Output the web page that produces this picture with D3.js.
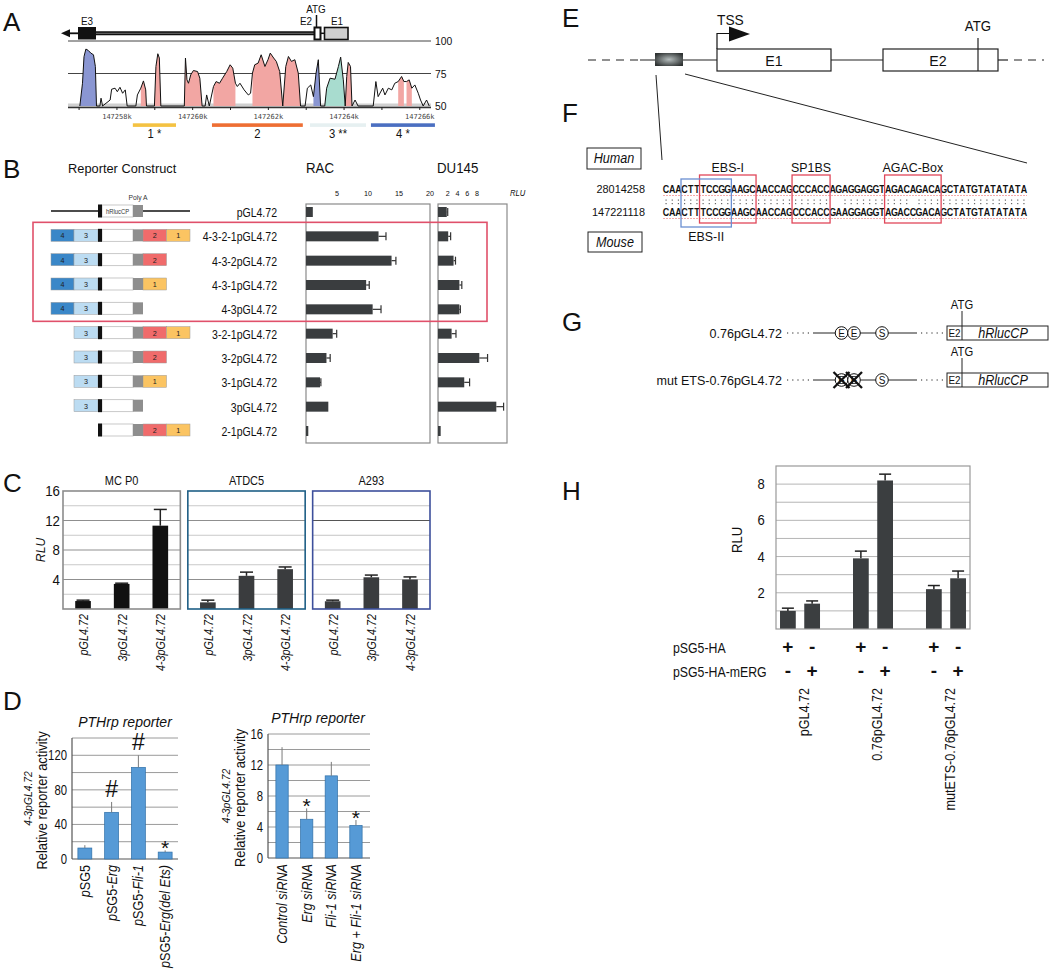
<!DOCTYPE html>
<html><head><meta charset="utf-8">
<script src="https://cdn.jsdelivr.net/npm/d3@7"></script>
<style>
body{margin:0;background:#fff}
svg{display:block;background:#fff}
text{font-family:"Liberation Sans",Arial,sans-serif;fill:#111}
</style>
</head><body>
<svg id="fig" width="1050" height="972"></svg>
<script>
// ================= DATA =================
// Panel A: conservation profile (position in kb offset from 147200k, % identity)
const aKbBase = 147200;
const aProfile = [
[57.02,50],[57.09,67.5],[57.13,88],[57.18,93.8],[57.24,92.8],[57.31,90.7],[57.38,89.4],[57.43,80.4],[57.46,50],
[57.55,50],[57.58,56],[57.62,50],
[57.82,54.6],[57.86,62.9],[57.95,63.7],[58.01,61],[58.08,64.4],[58.15,59.8],[58.22,62.4],[58.27,50],
[58.50,50],[58.54,58.5],[58.63,63.7],[58.70,69.3],[58.76,62.4],[58.78,50],
[58.99,50],[59.03,80.4],[59.08,90.2],[59.12,86.9],[59.16,50],
[59.78,50],[59.81,86.9],[59.85,70.1],[59.89,67.5],[59.95,74],[60.02,77.3],[60.13,76.5],[60.19,71.4],[60.25,50],
[60.33,50],[60.37,58.5],[60.44,50],
[60.55,65],[60.62,68.8],[60.71,67.5],[60.79,71.4],[60.90,76.5],[60.99,81.7],[61.06,79.1],[61.13,67.5],
[61.18,65],[61.25,67.5],[61.36,62.4],[61.47,58.5],[61.53,59.8],
[61.58,75.3],[61.64,81.7],[61.73,83],[61.81,89.4],[61.91,80.4],[61.99,85.6],[62.05,90.7],[62.14,86.9],[62.21,84.3],[62.30,76.5],[62.38,50],
[62.46,80.4],[62.53,88.1],[62.61,84.3],[62.70,85.6],[62.79,75.3],[62.85,50],
[62.97,50],[63.03,63.7],[63.12,66.2],[63.19,57.2],[63.26,75.3],[63.32,85.6],[63.38,50],
[63.49,50],[63.54,63.7],[63.63,71.4],[63.76,70.6],[63.85,80.4],[63.91,87.6],[63.98,70.1],[64.03,50],
[64.07,72.7],[64.11,83.5],[64.17,80.4],[64.21,50],
[64.29,54.6],[64.37,50],
[64.77,50],[64.84,68.8],[64.90,57.2],[65.02,63.7],[65.08,58.5],[65.17,63.7],[65.26,62.4],[65.34,67.5],[65.43,68.8],[65.52,72.7],[65.58,68.8],[65.65,68.8],[65.72,70.1],[65.79,63.7],[65.87,66.2],[65.96,59.8],[66.02,54.6],[66.09,50],[66.18,54.6],[66.25,50]
];
const aFillRegions = [
[57.02,57.46,"blue"],[58.63,58.78,"pink"],[58.99,59.16,"pink"],[59.78,60.25,"pink"],
[60.55,61.13,"pink"],[61.58,62.38,"pink"],[62.38,62.85,"pink"],[63.19,63.38,"blue"],
[63.49,64.03,"teal"],[64.03,64.21,"pink"],[65.43,65.58,"pink"],[65.65,65.79,"pink"]
];
const aLevels = [100,75,50];
const aTicks = [58,60,62,64,66];
const aSegLabels = ["1 *","2","3 **","4 *"];
const aSegFrom = [58.42,60.51,63.10,64.71];
const aSegTo = [59.56,62.91,64.58,66.40];

// Panel B
const bConstructs = ["pGL4.72","4-3-2-1pGL4.72","4-3-2pGL4.72","4-3-1pGL4.72","4-3pGL4.72","3-2-1pGL4.72","3-2pGL4.72","3-1pGL4.72","3pGL4.72","2-1pGL4.72"];
const bParts = [[],["4","3","2","1"],["4","3","2"],["4","3","1"],["4","3"],["3","2","1"],["3","2"],["3","1"],["3"],["2","1"]];
const bRAC = [1.1,11.7,13.8,9.7,10.75,4.3,3.3,2.26,3.6,0.37];
const bRACerr = [1.1,12.9,14.5,10.2,12.1,4.95,3.9,2.4,3.6,0.37];
const bDU = [1.8,2.1,3.2,4.4,4.4,2.8,8.5,5.4,12.0,0.55];
const bDUerr = [2.0,2.6,3.6,4.9,4.6,3.7,10.2,6.5,13.5,0.6];
const bRACticks = [5,10,15,20];
const bDUticks = [2,4,6,8];

// Panel C
const cCells = ["MC P0","ATDC5","A293"];
const cConstructs = ["pGL4.72","3pGL4.72","4-3pGL4.72"];
const cValues = [[1.08,3.4,11.3],[0.9,4.5,5.4],[1.05,4.3,4.0]];
const cErrors = [[1.2,3.5,13.5],[1.2,5.0,5.7],[1.2,4.6,4.35]];
const cTicks = [4,8,12,16];

// Panel D
const dLeftCats = ["pSG5","pSG5-Erg","pSG5-Fli-1","pSG5-Erg(del Ets)"];
const dLeftVals = [12.7,54,106,8];
const dLeftErr = [16,66,120,10];
const dLeftMarks = ["","#","#","*"];
const dLeftTicks = [0,40,80,120];
const dRightCats = ["Control siRNA","Erg siRNA","Fli-1 siRNA","Erg + Fli-1 siRNA"];
const dRightVals = [12.0,5.0,10.6,4.2];
const dRightErr = [14.3,6.4,12.4,4.9];
const dRightMarks = ["","*","","*"];
const dRightTicks = [0,4,8,12,16];

// Panel F
const fHuman = "CAACTTTCCGGAAGCAACCAGCCCACCAGAGGAGGTAGACAGACAGCTATGTATATATA";
const fMouse = "CAACTTTCCGGAAGCAACCAGCCCACCGAAGGAGGTAGACCGACAGCTATGTATATATA";
const fCoords = ["28014258","147221118"];
const fSiteNames = ["EBS-I","SP1BS","AGAC-Box","EBS-II"];
const fSiteFrom = [6,21,36,3];
const fSiteTo = [14,26,44,10];

// Panel G
const gRows = ["0.76pGL4.72","mut ETS-0.76pGL4.72"];
const gMutated = [false,true];
const gSites = ["E","E","S"];

// Panel H
const hGroups = ["pGL4.72","0.76pGL4.72","mutETS-0.76pGL4.72"];
const hHA = [["+","-"],["+","-"],["+","-"]];
const hERG = [["-","+"],["-","+"],["-","+"]];
const hValues = [[1.0,1.4],[3.9,8.2],[2.2,2.8]];
const hErr = [[1.15,1.55],[4.3,8.55],[2.4,3.2]];
const hTicks = [2,4,6,8];

// ================= DRAWING =================
const svg = d3.select("#fig");
function txt(g, x, y, s, o = {}) {
  const sx = o.sx == null ? 0.9 : o.sx;
  const t = g.append("text").attr("transform", `translate(${x},${y}) scale(${sx},1)`).text(s)
    .attr("font-size", o.size || 12).style("fill", o.fill || "#111");
  if (o.anchor) t.attr("text-anchor", o.anchor);
  if (o.italic) t.style("font-style", "italic");
  if (o.bold) t.style("font-weight", "bold");
  if (o.family) t.style("font-family", o.family);
  return t;
}
function line(g, x1, y1, x2, y2, stroke = "#111", w = 1, dash) {
  const l = g.append("line").attr("x1", x1).attr("y1", y1).attr("x2", x2).attr("y2", y2)
    .attr("stroke", stroke).attr("stroke-width", w);
  if (dash) l.attr("stroke-dasharray", dash);
  return l;
}
function rtxt(g, x, y, s, o = {}) { // rotated -90
  const sx = o.sx == null ? 0.9 : o.sx;
  const t = g.append("text").attr("transform", `translate(${x},${y}) rotate(-90) scale(${sx},1)`).text(s)
    .attr("font-size", o.size || 12).attr("text-anchor", o.anchor || "end").style("fill", "#111");
  if (o.italic) t.style("font-style", "italic");
  if (o.family) t.style("font-family", o.family);
  return t;
}

// Panel letters
[["A",3,31],["B",3,178],["C",3,492],["D",3,710],["E",562,27],["F",562,122],["G",562,331],["H",562,500]]
  .forEach(([l,x,y]) => txt(svg, x, y, l, {size: 26, sx: 1}));

// ---------- Panel A ----------
{
  const g = svg.append("g");
  const ax = d3.scaleLinear().domain([56.76, 66.27]).range([70, 430]);
  const ay = d3.scaleLinear().domain([50, 100]).range([106, 41]);
  g.append("path").attr("d", "M61,33.3 L70,29.3 L70,37.3 Z").attr("fill", "#111");
  line(g, 68, 33.3, 78, 33.3, "#111", 1.8);
  g.append("rect").attr("x", 78).attr("y", 27).attr("width", 18).attr("height", 12.5).attr("fill", "#111");
  line(g, 96, 33.3, 314, 33.3, "#111", 4);
  line(g, 96, 33.3, 314, 33.3, "#888", 0.8);
  g.append("rect").attr("x", 314.5).attr("y", 27.5).attr("width", 6).attr("height", 12).attr("fill", "#fff").attr("stroke", "#111").attr("stroke-width", 2);
  line(g, 321, 33.3, 324, 33.3, "#111", 1.5);
  g.append("rect").attr("x", 324.5).attr("y", 27.5).attr("width", 23.5).attr("height", 12).attr("fill", "#cfcfcf").attr("stroke", "#111").attr("stroke-width", 1.6);
  line(g, 316.5, 15, 316.5, 27.5, "#111", 1.5);
  txt(g, 316, 13, "ATG", {size: 11, anchor: "middle"});
  txt(g, 306, 25, "E2", {size: 11, anchor: "middle"});
  txt(g, 337, 25, "E1", {size: 11, anchor: "middle"});
  txt(g, 87, 25, "E3", {size: 11, anchor: "middle"});
  line(g, 68, ay(100), 431, ay(100), "#444", 1);
  line(g, 68, ay(75), 431, ay(75), "#444", 1);
  g.append("rect").attr("x", 68).attr("y", ay(50) - 2.5).attr("width", 363).attr("height", 3.5).attr("fill", "#d0d0d0");
  line(g, 68, ay(50) + 1.5, 431, ay(50) + 1.5, "#333", 1.5);
  aLevels.forEach(v => txt(g, 435, ay(v) + 4, String(v), {size: 11.5}));
  const fillCol = {blue: "#8a96d2", pink: "#f2a6a3", teal: "#a8dccf"};
  const area = d3.area().x(d => ax(d[0])).y0(ay(50)).y1(d => ay(d[1]));
  aFillRegions.forEach(([a, b, c]) => {
    const pts = aProfile.filter(p => p[0] >= a - 1e-9 && p[0] <= b + 1e-9);
    g.append("path").attr("d", area(pts)).attr("fill", fillCol[c]);
  });
  g.append("path").attr("d", d3.line().x(d => ax(d[0])).y(d => ay(d[1]))(aProfile))
    .attr("fill", "none").attr("stroke", "#111").attr("stroke-width", 1);
  d3.range(57, 67).forEach(k => line(g, ax(k), ay(50) + 1, ax(k), ay(50) + 4, "#222", 1));
  aTicks.forEach(t => txt(g, ax(t), 119, (aKbBase + t) + "k", {size: 7, sx: 1, anchor: "middle", family: '"DejaVu Sans Mono",monospace', fill: "#444"}));
  const segCol = ["#f4c242", "#ee6e33", "#e6f0f1", "#4b6fc1"];
  aSegLabels.forEach((s, i) => {
    g.append("rect").attr("x", ax(aSegFrom[i])).attr("y", 123.3).attr("width", ax(aSegTo[i]) - ax(aSegFrom[i])).attr("height", 3.6).attr("fill", segCol[i]);
    txt(g, (ax(aSegFrom[i]) + ax(aSegTo[i])) / 2, 138, s, {size: 12.5, anchor: "middle"});
  });
}

// ---------- Panel B ----------
{
  const g = svg.append("g");
  const by = d3.scalePoint().domain(bConstructs).range([212, 431]);
  const rx = d3.scaleLinear().domain([0, 20]).range([306, 430]);
  const dx = d3.scaleLinear().domain([0, 14.2]).range([438, 507]);
  txt(g, 68, 173, "Reporter Construct", {size: 13.5, sx: 0.95});
  txt(g, 306, 173, "RAC", {size: 14, sx: 0.95});
  txt(g, 437, 173, "DU145", {size: 14, sx: 0.95});
  const top = by(bConstructs[0]) - 8, bot = by(bConstructs[bConstructs.length - 1]) + 12;
  g.append("rect").attr("x", rx(0)).attr("y", top).attr("width", rx(20) - rx(0)).attr("height", bot - top).attr("fill", "none").attr("stroke", "#8a8a8a").attr("stroke-width", 1.2);
  g.append("rect").attr("x", dx(0)).attr("y", top).attr("width", dx(14.2) - dx(0)).attr("height", bot - top).attr("fill", "none").attr("stroke", "#8a8a8a").attr("stroke-width", 1.2);
  bRACticks.forEach(t => txt(g, rx(t), 196, String(t), {size: 8, anchor: "middle"}));
  bDUticks.forEach(t => txt(g, dx(t), 196, String(t), {size: 8, anchor: "middle"}));
  txt(g, 510, 196, "RLU", {size: 8.5, italic: true});
  g.append("rect").attr("x", 33).attr("y", by(bConstructs[1]) - 14).attr("width", 454)
    .attr("height", by(bConstructs[4]) + 12 - (by(bConstructs[1]) - 14)).attr("fill", "none").attr("stroke", "#e0506a").attr("stroke-width", 1.6);
  const partCol = {"4": "#3a87c8", "3": "#bcdcf2", "2": "#f06b6b", "1": "#fbc462"};
  const lead = {"4": [51, 74], "3": [74, 98]};
  bConstructs.forEach((name, i) => {
    const cy = by(name);
    const ccy = cy - 1;
    if (i === 0) line(g, 51, ccy, 190, ccy, "#111", 1.5);
    let slot = 0;
    bParts[i].forEach(p => {
      let x0, x1;
      if (lead[p]) { [x0, x1] = lead[p]; }
      else { x0 = 143 + slot * 23.5; x1 = x0 + 23.5; slot++; }
      g.append("rect").attr("x", x0).attr("y", ccy - 6).attr("width", x1 - x0).attr("height", 12).attr("fill", partCol[p]).attr("stroke", "#9a9a9a").attr("stroke-width", 0.5);
      txt(g, (x0 + x1) / 2, ccy + 3, p, {size: 8, anchor: "middle", fill: "#222"});
    });
    g.append("rect").attr("x", 102).attr("y", ccy - 6).attr("width", 31).attr("height", 12).attr("fill", "#fff").attr("stroke", "#bbb").attr("stroke-width", 0.8);
    g.append("rect").attr("x", 98).attr("y", ccy - 6.5).attr("width", 4).attr("height", 13).attr("fill", "#111");
    g.append("rect").attr("x", 133).attr("y", ccy - 6).attr("width", 10).attr("height", 12).attr("fill", "#8e8e8e");
    if (i === 0) {
      txt(g, 117.5, ccy + 2.5, "hRlucCP", {size: 6.5, anchor: "middle", fill: "#333"});
      txt(g, 138, ccy - 11, "Poly A", {size: 7.5, anchor: "middle", fill: "#333"});
    }
    txt(g, 277, cy + 5, name, {size: 13.5, sx: 0.78, anchor: "end"});
    [[rx, bRAC[i], bRACerr[i]], [dx, bDU[i], bDUerr[i]]].forEach(([sx, v, e]) => {
      g.append("rect").attr("x", sx(0)).attr("y", cy - 5).attr("width", sx(v) - sx(0)).attr("height", 10).attr("fill", "#3a3d3f");
      if (e > v + 0.05) {
        line(g, sx(v), cy, sx(e), cy, "#333", 1.2);
        line(g, sx(e), cy - 4, sx(e), cy + 4, "#333", 1.2);
      }
    });
  });
}

// ---------- Panel C ----------
{
  const g = svg.append("g");
  const cx = d3.scaleBand().domain(cCells).range([63, 430]).paddingInner(0.06);
  const cy = d3.scaleLinear().domain([0, 16]).range([609, 491]);
  const borders = ["#8c8c8c", "#1f5f86", "#3d4f9c"];
  const barCols = ["#111", "#3a3c3e", "#3a3c3e"];
  const inner = d3.scaleBand().domain(cConstructs).range([0, cx.bandwidth()]).paddingInner(0.595).paddingOuter(0.316);
  cCells.forEach((cell, ci) => {
    const x0 = cx(cell), w = cx.bandwidth();
    d3.range(2, 16, 2).forEach(v => {
      const major = v % 4 === 0;
      let col = major ? "#8f8f8f" : "#c9c9c9";
      if (ci === 2) col = v === 12 ? "#555" : "#c4c4c4";
      line(g, x0, cy(v), x0 + w, cy(v), col, 1);
    });
    cConstructs.forEach((c, j) => {
      const bx = x0 + inner(c), bw = inner.bandwidth(), v = cValues[ci][j], e = cErrors[ci][j];
      g.append("rect").attr("x", bx).attr("y", cy(v)).attr("width", bw).attr("height", cy(0) - cy(v)).attr("fill", barCols[ci]);
      const mx = bx + bw / 2;
      line(g, mx, cy(v), mx, cy(e), "#222", 1.5);
      line(g, mx - 6.5, cy(e), mx + 6.5, cy(e), "#222", 1.5);
      rtxt(g, mx + 5, 614, c, {size: 12, italic: true, sx: 0.9});
    });
    g.append("rect").attr("x", x0).attr("y", cy(16)).attr("width", w).attr("height", cy(0) - cy(16)).attr("fill", "none").attr("stroke", borders[ci]).attr("stroke-width", 1.6);
    txt(g, x0 + w / 2, 485, cell, {size: 12.5, anchor: "middle", sx: 0.88});
  });
  cTicks.forEach(t => txt(g, 60, cy(t) + 5, String(t), {size: 14, anchor: "end", sx: 0.95}));
  rtxt(g, 45, 550, "RLU", {size: 13.5, italic: true, anchor: "middle"});
}

// ---------- Panel D ----------
function dChart(cats, vals, errs, marks, ticks, x0, x1, yBottom, yTop, ymax, pi, po, labelFn, ylabX, title, titleX) {
  const g = svg.append("g");
  const x = d3.scaleBand().domain(cats).range([x0, x1]).paddingInner(pi).paddingOuter(po);
  const y = d3.scaleLinear().domain([0, ymax]).range([yBottom, yTop]);
  const step = ticks[1] - ticks[0];
  d3.range(step / 2, ymax + 0.01, step / 2).forEach(v => line(g, x0, y(v), x1, y(v), "#9a9a9a", 1));
  line(g, x0, yTop, x0, yBottom, "#555", 1.2);
  line(g, x0, yBottom, x1, yBottom, "#555", 1.2);
  ticks.forEach(t => txt(g, x0 - 5, y(t) + 5, String(t), {size: 14.5, anchor: "end", sx: 0.78}));
  cats.forEach((c, i) => {
    const bx = x(c), bw = x.bandwidth(), mx = bx + bw / 2;
    g.append("rect").attr("x", bx).attr("y", y(vals[i])).attr("width", bw).attr("height", y(0) - y(vals[i]))
      .attr("fill", "#569ad6").attr("stroke", "#2f6fa8").attr("stroke-width", 0.7);
    line(g, mx, y(vals[i]), mx, y(errs[i]), "#7a7a7a", 1);
    if (marks[i] === "#") txt(g, mx, y(errs[i]) - 5, "#", {size: 23, anchor: "middle", sx: 1});
    if (marks[i] === "*") txt(g, mx, y(errs[i]) + 5, "*", {size: 21, anchor: "middle", sx: 1});
    const t = g.append("text").attr("transform", `translate(${mx + 5},${yBottom + 6}) rotate(-90) scale(0.87,1)`)
      .attr("text-anchor", "end").attr("font-size", 14.5).style("fill", "#111");
    labelFn(c).forEach(([s, it]) => t.append("tspan").text(s).style("font-style", it ? "italic" : "normal"));
  });
  rtxt(g, ylabX, (yTop + yBottom) / 2 + 2, "Relative reporter activity", {size: 15, anchor: "middle", sx: 0.86});
  rtxt(g, ylabX - 15, (yTop + yBottom) / 2, "4-3pGL4.72", {size: 11.5, anchor: "middle", italic: true, sx: 0.9});
  txt(g, titleX, yTop - 11, title, {size: 14.5, anchor: "middle", italic: true, sx: 0.97});
}
dChart(dLeftCats, dLeftVals, dLeftErr, dLeftMarks, dLeftTicks, 72, 178, 859, 738, 140, 0.48, 0.22,
  c => { const rest = c.slice(4); return rest ? [["p", 1], ["SG5-", 0], [rest.slice(1), 1]] : [["p", 1], ["SG5", 0]]; },
  47, "PTHrp reporter", 125);
dChart(dRightCats, dRightVals, dRightErr, dRightMarks, dRightTicks, 268, 370, 858, 734, 16, 0.5, 0.32,
  c => [[c, 1]], 245, "PTHrp reporter", 318);

// ---------- Panel E ----------
{
  const g = svg.append("g");
  const defs = svg.append("defs");
  const rg = defs.append("radialGradient").attr("id", "gbox").attr("cx", "50%").attr("cy", "50%").attr("r", "60%");
  rg.append("stop").attr("offset", "0").attr("stop-color", "#b5bdbd");
  rg.append("stop").attr("offset", "1").attr("stop-color", "#2f3333");
  const y0 = 60;
  line(g, 588, y0, 640, y0, "#222", 1.2, "8,6");
  line(g, 640, y0, 717, y0, "#222", 1.2);
  line(g, 831, y0, 883, y0, "#222", 1.2);
  line(g, 998, y0, 1008, y0, "#222", 1.2);
  line(g, 1014, y0, 1044, y0, "#222", 1.2, "8,6");
  g.append("rect").attr("x", 655).attr("y", 53).attr("width", 28).attr("height", 13).attr("fill", "url(#gbox)");
  g.append("rect").attr("x", 717).attr("y", 49).attr("width", 114).attr("height", 22).attr("fill", "#fff").attr("stroke", "#222").attr("stroke-width", 1.2);
  g.append("rect").attr("x", 883).attr("y", 49).attr("width", 115).attr("height", 22).attr("fill", "#fff").attr("stroke", "#222").attr("stroke-width", 1.2);
  line(g, 978, 38, 978, 71, "#222", 1.2);
  txt(g, 978, 31, "ATG", {size: 14, anchor: "middle", sx: 0.95});
  txt(g, 774, 66, "E1", {size: 15, anchor: "middle", sx: 0.95});
  txt(g, 938, 66, "E2", {size: 15, anchor: "middle", sx: 0.95});
  g.append("path").attr("d", "M717,49 L717,33.5 L730,33.5").attr("fill", "none").attr("stroke", "#111").attr("stroke-width", 1.2);
  g.append("path").attr("d", "M729,26.5 L750,34 L729,41.5 Z").attr("fill", "#111");
  txt(g, 717, 25, "TSS", {size: 14.5, sx: 0.95});
  line(g, 656, 75, 662, 160, "#222", 1);
  line(g, 685, 74, 1027, 163, "#222", 1);
}

// ---------- Panel F ----------
{
  const g = svg.append("g");
  const fx = d3.scaleBand().domain(d3.range(fHuman.length)).range([663, 1027]);
  const hw = fx.bandwidth();
  const yH = 193, yM = 216;
  g.append("rect").attr("x", 587).attr("y", 148).attr("width", 54).attr("height", 21).attr("fill", "#fff").attr("stroke", "#222").attr("stroke-width", 1);
  txt(g, 614, 163, "Human", {size: 14, anchor: "middle", italic: true});
  g.append("rect").attr("x", 588).attr("y", 232).attr("width", 54).attr("height", 20).attr("fill", "#fff").attr("stroke", "#222").attr("stroke-width", 1);
  txt(g, 615, 246.5, "Mouse", {size: 14, anchor: "middle", italic: true});
  txt(g, 645, yH, fCoords[0], {size: 11.5, anchor: "end", sx: 0.95});
  txt(g, 645, yM, fCoords[1], {size: 11.5, anchor: "end", sx: 0.95});
  line(g, fx(0), yH + 2.5, fx(fHuman.length - 1) + hw, yH + 2.5, "#f3a0a0", 0.9, "2,1");
  line(g, fx(0), yM + 2.5, fx(fMouse.length - 1) + hw, yM + 2.5, "#f3a0a0", 0.9, "2,1");
  [fHuman, fMouse].forEach((seq, si) => {
    seq.split("").forEach((ch, i) => txt(g, fx(i) + hw / 2, si ? yM : yH, ch, {size: 10.5, anchor: "middle", bold: true, sx: 0.85}));
  });
  fHuman.split("").forEach((ch, i) => {
    if (ch === fMouse[i]) {
      [199.5, 203].forEach(yy => g.append("rect").attr("x", fx(i) + hw / 2 - 0.6).attr("y", yy).attr("width", 1.2).attr("height", 1.2).attr("fill", "#666"));
    }
  });
  fSiteNames.forEach((n, k) => {
    const x0 = fx(fSiteFrom[k]) - 0.5, x1 = fx(fSiteTo[k]) + hw + 0.5;
    const blue = n === "EBS-II";
    g.append("rect").attr("x", x0).attr("y", blue ? 179 : 175).attr("width", x1 - x0).attr("height", 48)
      .attr("fill", "none").attr("stroke", blue ? "#6a8fd2" : "#e0475a").attr("stroke-width", 1.3);
    txt(g, (x0 + x1) / 2, blue ? 241 : 172, n, {size: 13.5, anchor: "middle", sx: 0.92});
  });
}

// ---------- Panel G ----------
{
  const g = svg.append("g");
  const siteX = [841.5, 854, 882];
  gRows.forEach((r, i) => {
    const cy = 333 + i * 47;
    txt(g, 782, cy + 4.5, r, {size: 13.5, anchor: "end", sx: 0.93});
    line(g, 787, cy, 813, cy, "#222", 1, "1.2,4");
    line(g, 813, cy, 917, cy, "#222", 1);
    line(g, 921, cy, 945, cy, "#222", 1, "1.2,4");
    gSites.forEach((s, k) => {
      g.append("circle").attr("cx", siteX[k]).attr("cy", cy).attr("r", 6.3).attr("fill", "#fff").attr("stroke", "#111").attr("stroke-width", 1);
      txt(g, siteX[k], cy + 3.6, s, {size: 10, anchor: "middle", sx: 1});
      if (gMutated[i] && s === "E") {
        line(g, siteX[k] - 8, cy - 8, siteX[k] + 8, cy + 8, "#111", 2.3);
        line(g, siteX[k] - 8, cy + 8, siteX[k] + 8, cy - 8, "#111", 2.3);
      }
    });
    g.append("rect").attr("x", 947).attr("y", cy - 7).attr("width", 101).attr("height", 14).attr("fill", "#fff").attr("stroke", "#222").attr("stroke-width", 1);
    line(g, 962, cy - 22, 962, cy + 7, "#222", 1);
    txt(g, 954.5, cy + 4, "E2", {size: 11, anchor: "middle"});
    txt(g, 1003, cy + 5, "hRlucCP", {size: 14, anchor: "middle", italic: true});
    txt(g, 962, cy - 24, "ATG", {size: 12.5, anchor: "middle"});
  });
}

// ---------- Panel H ----------
{
  const g = svg.append("g");
  const hx = d3.scaleBand().domain(hGroups).range([776, 970]).paddingInner(0.452).paddingOuter(0.055);
  const inner = d3.scaleBand().domain([0, 1]).range([0, hx.bandwidth()]).paddingInner(0.35);
  const hy = d3.scaleLinear().domain([0, 9]).range([629, 466]);
  d3.range(1, 9).forEach(v => line(g, 776, hy(v), 970, hy(v), "#b5b5b5", 1));
  hGroups.forEach((grp, gi) => {
    [0, 1].forEach(j => {
      const bx = hx(grp) + inner(j), bw = inner.bandwidth(), mx = bx + bw / 2;
      const v = hValues[gi][j], e = hErr[gi][j];
      g.append("rect").attr("x", bx).attr("y", hy(v)).attr("width", bw).attr("height", hy(0) - hy(v)).attr("fill", "#3b3e40");
      line(g, mx, hy(v), mx, hy(e), "#222", 1.5);
      line(g, mx - 6, hy(e), mx + 6, hy(e), "#222", 1.5);
      txt(g, mx, 653, hHA[gi][j], {size: 19, anchor: "middle", bold: true, sx: 1});
      txt(g, mx, 677, hERG[gi][j], {size: 19, anchor: "middle", bold: true, sx: 1});
      if (j === 1) rtxt(g, mx - 3, 688, grp, {size: 14, sx: 0.9});
    });
  });
  g.append("rect").attr("x", 776).attr("y", 466).attr("width", 194).attr("height", 163).attr("fill", "none").attr("stroke", "#999").attr("stroke-width", 1.2);
  hTicks.forEach(t => txt(g, 761, hy(t) + 5, String(t), {size: 14.5, anchor: "middle"}));
  rtxt(g, 742, 540, "RLU", {size: 14.5, anchor: "middle"});
  txt(g, 673, 653, "pSG5-HA", {size: 14, sx: 0.88});
  txt(g, 673, 677, "pSG5-HA-mERG", {size: 14, sx: 0.88});
}
</script>
</body></html>
